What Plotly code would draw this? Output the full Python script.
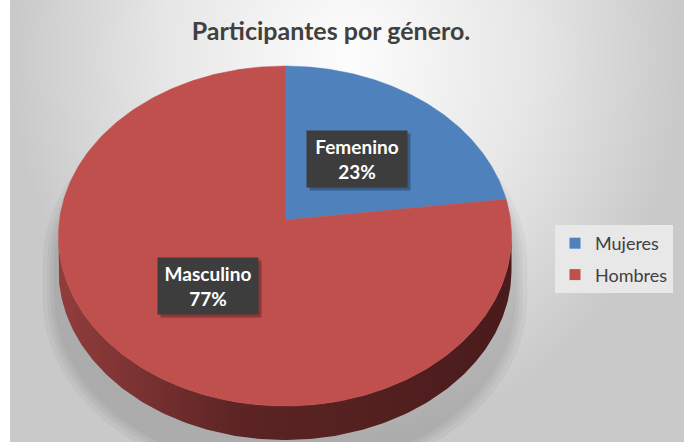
import numpy as np
import plotly.graph_objects as go

# datos
etiquetas = ["Femenino", "Masculino"]
leyenda = ["Mujeres", "Hombres"]
porcentajes = [23, 77]

# estilo
colores = ["#4f81bd", "#c0504d"]
lados = [
    [[0, "#2f4f78"], [0.4, "#22395a"], [1, "#1b2d47"]],
    [[0, "#923d3c"], [0.4, "#5c2424"], [1, "#4a1b1b"]],
]
FUENTE = "Lato"
GRIS = "#404040"

# geometria del pastel 3D (en pixeles)
W, H = 689, 442
CX, CY = 285, 220          # vertice
RX, RY, K = 225.5, 168.5, 0.0941
PROF = 34


def punto(t, f=1.0):
    t = np.radians(t)
    d = 1 + K * f * np.cos(t)
    return CX + RX * f * np.sin(t) / d, CY - RY * f * np.cos(t) / d


total = sum(porcentajes)
angulos = np.concatenate([[0], np.cumsum(porcentajes) / total * 360])
lim = np.degrees(np.arccos(-K))   # borde visible del lado

fig = go.Figure()

# fondo degradado
fig.add_trace(go.Scatter(
    x=[10, 684, 684, 10, 10], y=[-330, -330, 442, 442, -330],
    mode="lines", fill="toself", line=dict(width=0),
    fillgradient=dict(type="radial",
                      colorscale=[[0, "#fdfdfd"], [0.55, "#e6e6e6"], [1, "#c9c9c9"]]),
    hoverinfo="skip", showlegend=False))

# sombra
tt = np.linspace(lim - 360, lim, 300)
sx, sy = punto(tt)
bajo = (np.cos(np.radians(tt)) < -K)
sy = np.where(bajo, sy + PROF, sy)
for s in [0.07, 0.05, 0.035, 0.02]:
    fig.add_trace(go.Scatter(
        x=CX + (sx - CX) * (1 + s), y=CY + 16 + (sy - CY) * (1 + s) + 10,
        mode="lines", fill="toself", line=dict(width=0),
        fillcolor="rgba(0,0,0,0.035)", hoverinfo="skip", showlegend=False))

# lados
for i, p in enumerate(porcentajes):
    a0, a1 = max(angulos[i], lim), min(angulos[i + 1], 360 - lim)
    if a1 <= a0:
        continue
    t = np.linspace(a0, a1, 200)
    x, y = punto(t)
    fig.add_trace(go.Scatter(
        x=np.concatenate([x, x[::-1]]), y=np.concatenate([y, y[::-1] + PROF]),
        mode="lines", fill="toself", line=dict(width=0),
        fillgradient=dict(type="horizontal", colorscale=lados[i]),
        hoverinfo="skip", showlegend=False))

# caras superiores
for i, p in enumerate(porcentajes):
    t = np.linspace(angulos[i], angulos[i + 1], 300)
    x, y = punto(t)
    fig.add_trace(go.Scatter(
        x=np.concatenate([[CX], x, [CX]]), y=np.concatenate([[CY], y, [CY]]),
        mode="lines", fill="toself", fillcolor=colores[i],
        line=dict(width=0.5, color=colores[i]),
        name=etiquetas[i], hoverinfo="name", showlegend=False))

# leyenda
for n, c in zip(leyenda, colores):
    fig.add_trace(go.Scatter(
        x=[None], y=[None], mode="markers", name=n, legendgroup=n,
        marker=dict(symbol="square", size=11, color=c)))

# etiquetas de datos
for i, p in enumerate(porcentajes):
    lx, ly = punto((angulos[i] + angulos[i + 1]) / 2, 0.5)
    txt = f"<b>{etiquetas[i]}</b><br><b>{round(p / total * 100)}%</b>"
    # sombra de la caja
    fig.add_annotation(x=lx, y=ly, text=" ", showarrow=False,
                       bgcolor="rgba(0,0,0,0.28)", borderpad=0, width=100, height=56,
                       xshift=3, yshift=-3)
    fig.add_annotation(x=lx, y=ly, text=txt, showarrow=False,
                       font=dict(color="white", size=19, family=FUENTE),
                       bgcolor="#3d3d3d", borderpad=0, width=100, height=56)

fig.update_layout(
    width=W, height=H,
    margin=dict(l=0, r=0, t=0, b=0),
    paper_bgcolor="white", plot_bgcolor="white",
    title=dict(text="<b>Participantes por género.</b>", x=331 / W, y=1 - 31 / H,
               xanchor="center", yanchor="middle",
               font=dict(size=25, color=GRIS, family=FUENTE)),
    xaxis=dict(range=[0, W], visible=False, fixedrange=True),
    yaxis=dict(range=[H, 0], visible=False, fixedrange=True),
    legend=dict(x=555 / W, y=1 - 225 / H, xanchor="left", yanchor="top",
                bgcolor="#e8e8e8", font=dict(size=18, color=GRIS, family=FUENTE),
                traceorder="grouped", tracegroupgap=5, itemwidth=30),
    showlegend=True,
)

fig.write_html("out.html", config={"displayModeBar": False},
               post_script="document.body.style.margin='0';"
                           "document.body.style.overflow='hidden';")
